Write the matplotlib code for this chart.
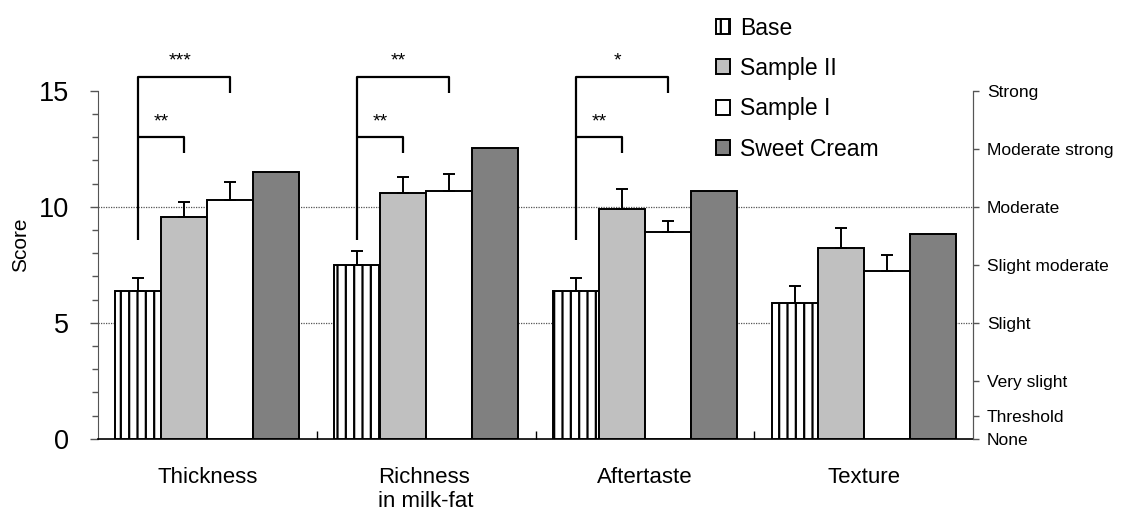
import matplotlib
matplotlib.use("Agg")
import matplotlib.pyplot as plt
from matplotlib.ticker import MultipleLocator, FixedLocator
import numpy as np

plt.rcParams["font.family"] = ["Liberation Sans", "DejaVu Sans"]
plt.rcParams["hatch.linewidth"] = 1.6

# ── Data ─────────────────────────────────────────────────────────────────────
attributes = ["Thickness", "Richness\nin milk-fat", "Aftertaste", "Texture"]
samples = ["Base", "Sample II", "Sample I", "Sweet Cream"]

base_mean = [6.35, 7.49, 6.37, 5.86]
base_err = [0.57, 0.60, 0.57, 0.72]
s2_mean = [9.55, 10.60, 9.91, 8.23]
s2_err = [0.64, 0.68, 0.85, 0.86]
s1_mean = [10.30, 10.69, 8.91, 7.24]
s1_err = [0.78, 0.73, 0.47, 0.66]
sweet_mean = [11.50, 12.54, 10.68, 8.84]

# significance vs Base: (Sample II, Sample I); None = not marked
sig_s2 = ["**", "**", "**", None]
sig_s1 = ["***", "**", "*", None]

scale_ticks = [0, 1, 2.5, 5, 7.5, 10, 12.5, 15]
scale_labels = ["None", "Threshold", "Very slight", "Slight",
                "Slight moderate", "Moderate", "Moderate strong", "Strong"]

# ── Styling ──────────────────────────────────────────────────────────────────
means = [base_mean, s2_mean, s1_mean, sweet_mean]
errs = [base_err, s2_err, s1_err, None]
faces = ["white", "#c0c0c0", "white", "#808080"]
hatches = ["||", None, None, None]

W = 0.21
centers = np.arange(len(attributes)) + 0.5
offsets = (np.arange(4) - 1.5) * W

fig = plt.figure(figsize=(11.25, 5.14), dpi=100)
ax = fig.add_axes([0.0871, 0.1465, 0.7778, 0.677])

for i in range(4):
    xs = centers + offsets[i]
    ax.bar(xs, means[i], W, color=faces[i], edgecolor="black", linewidth=1.4,
           hatch=hatches[i], label=samples[i], zorder=3)
    if errs[i] is not None:
        ax.errorbar(xs, means[i], yerr=[np.zeros(4), errs[i]], fmt="none",
                    ecolor="black", elinewidth=1.4, capsize=4.3, capthick=1.4,
                    zorder=4)

# reference lines for the intensity scale
for yv in (5, 10):
    ax.axhline(yv, color="#555555", lw=0.9, ls=(0, (1, 1)), zorder=1)

# ── Significance brackets ────────────────────────────────────────────────────
y_low, y_in, y_in_drop, y_out, y_out_drop = 8.56, 13.02, 12.3, 15.6, 14.89
for g in range(len(attributes)):
    if sig_s2[g] is None:
        continue
    xb = centers[g] + offsets[0]
    x2 = centers[g] + offsets[1]
    x1 = centers[g] + offsets[2]
    kw = dict(color="black", lw=1.6, clip_on=False, zorder=5,
              solid_capstyle="butt")
    ax.plot([xb, xb, x1, x1], [y_low, y_out, y_out, y_out_drop], **kw)
    ax.plot([xb, x2, x2], [y_in, y_in, y_in_drop], **kw)
    ax.text((xb + x2) / 2, 13.45, sig_s2[g], ha="center", va="baseline",
            fontsize=14, clip_on=False)
    ax.text((xb + x1) / 2 - 0.02, 16.1, sig_s1[g], ha="center", va="baseline",
            fontsize=14, clip_on=False)

# ── Axes ─────────────────────────────────────────────────────────────────────
ax.set_xlim(0, 4)
ax.set_ylim(0, 15)
ax.spines["top"].set_visible(False)
ax.spines["left"].set_color("#555555")
ax.spines["right"].set_color("#555555")
ax.spines["bottom"].set_linewidth(1.2)

ax.set_yticks([0, 5, 10, 15])
ax.yaxis.set_minor_locator(MultipleLocator(1))
ax.tick_params(axis="y", which="major", length=6, width=1, color="#555555",
               labelsize=19.5, pad=15)
ax.tick_params(axis="y", which="minor", length=4.5, width=1, color="#555555")

ax.set_xticks(centers)
ax.set_xticklabels(attributes, multialignment="left")
ax.xaxis.set_minor_locator(FixedLocator([1, 2, 3]))
ax.tick_params(axis="x", which="major", length=0, labelsize=16, pad=20.5)
ax.tick_params(axis="x", which="minor", length=6, width=1, direction="in")

ax2 = ax.twinx()
ax2.set_ylim(0, 15)
ax2.set_yticks(scale_ticks)
ax2.set_yticklabels(scale_labels)
ax2.tick_params(axis="y", length=4, width=1, color="#555555",
                labelsize=12.5, pad=6)
for sp in ("top", "left", "bottom"):
    ax2.spines[sp].set_visible(False)
ax2.spines["right"].set_color("#555555")

fig.text(0.018, 0.523, "Score", rotation=90, ha="center", va="center",
         fontsize=15)

handles, labels = ax.get_legend_handles_labels()
fig.legend(handles, labels, loc="upper left", bbox_to_anchor=(0.618, 1.008),
           frameon=False, fontsize=16.5, handlelength=0.62, handleheight=0.62,
           handletextpad=0.45, labelspacing=0.76)

plt.savefig("out.png", dpi=100)
plt.close()
